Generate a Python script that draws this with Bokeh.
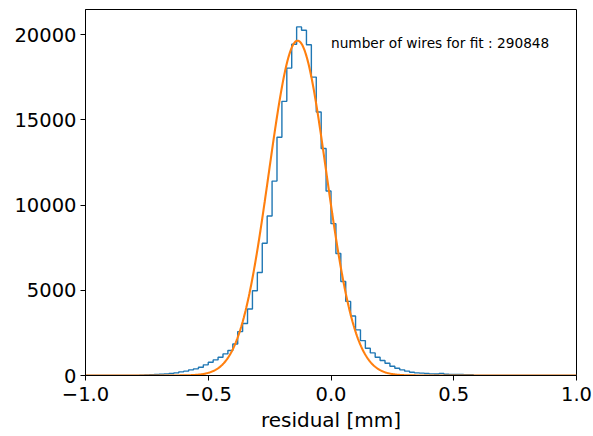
import numpy as np
from bokeh.plotting import figure
from bokeh.models import FixedTicker, Label
from bokeh.embed import file_html
from bokeh.resources import INLINE

# ---- data ----
bin_lo = -1.0
bin_width = 0.02
counts = [
    0, 0, 0, 0, 0, 0, 1, 2, 4, 6,
    10, 15, 25, 40, 58, 78, 98, 117, 156, 215,
    254, 332, 390, 488, 624, 780, 917, 1073, 1268, 1463,
    1853, 2575, 3050, 3900, 4974, 6045, 7765, 9362, 11410, 13985,
    16090, 18040, 19444, 20460, 20265, 19409, 17513, 15465, 13324, 10825,
    8912, 7157, 5520, 4350, 3490, 2680, 2048, 1600, 1326, 1073,
    878, 722, 546, 429, 332, 254, 195, 156, 137, 117,
    98, 90, 117, 75, 65, 60, 55, 50, 40, 10,
    3, 2, 0, 0, 0, 0, 0, 0, 0, 0,
    0, 0, 0, 0, 0, 0, 0, 0, 0, 0,
]
fit_mu = -0.136
fit_sigma = 0.117
fit_amp = 19650.0
n_wires = 290848

x_ticks = [-1.0, -0.5, 0.0, 0.5, 1.0]
x_tick_labels = ["\u22121.0", "\u22120.5", "0.0", "0.5", "1.0"]
y_ticks = [0, 5000, 10000, 15000, 20000]
y_tick_labels = ["0", "5000", "10000", "15000", "20000"]

# ---- figure ----
p = figure(width=593, height=436, x_range=(-1, 1), y_range=(0, 21480),
           output_backend="svg", toolbar_location=None,
           min_border_left=85, min_border_right=17, min_border_top=9,
           min_border_bottom=61)
p.background_fill_color = "white"
p.border_fill_color = "white"
p.outline_line_color = "black"
p.outline_line_width = 1
p.xgrid.visible = False
p.ygrid.visible = False

edges = bin_lo + bin_width * np.arange(len(counts) + 1)
ys = list(counts) + [counts[-1]]
p.step(x=edges, y=ys, mode="after", line_color="#1f77b4", line_width=1.4)

xf = np.linspace(-1, 1, 801)
yf = fit_amp * np.exp(-0.5 * ((xf - fit_mu) / fit_sigma) ** 2)
p.line(xf, yf, line_color="#ff7f0e", line_width=2.1)

p.add_layout(Label(x=0.0, y=19500, text="number of wires for fit : %d" % n_wires,
                   text_font="DejaVu Sans", text_font_size="13.7px",
                   text_baseline="middle", text_align="left", text_color="black"))

for ax in (p.xaxis[0], p.yaxis[0]):
    ax.major_label_text_font = "DejaVu Sans"
    ax.major_label_text_font_size = "19.5px"
    ax.major_label_text_color = "black"
    ax.major_tick_out = 5
    ax.major_tick_in = 0
    ax.minor_tick_out = 0
    ax.minor_tick_in = 0
    ax.axis_line_color = "black"
    ax.major_tick_line_color = "black"
    ax.major_label_standoff = 4

p.xaxis.major_label_standoff = 6
p.xaxis.ticker = FixedTicker(ticks=x_ticks)
p.xaxis.major_label_overrides = {t: l for t, l in zip(x_ticks, x_tick_labels)}
p.yaxis.ticker = FixedTicker(ticks=y_ticks)
p.yaxis.major_label_overrides = {t: l for t, l in zip(y_ticks, y_tick_labels)}

p.xaxis.axis_label = "residual [mm]"
p.xaxis.axis_label_text_font = "DejaVu Sans"
p.xaxis.axis_label_text_font_size = "20px"
p.xaxis.axis_label_text_font_style = "normal"
p.xaxis.axis_label_text_color = "black"
p.xaxis.axis_label_standoff = 4

open("out.html", "w").write(file_html(p, INLINE))
